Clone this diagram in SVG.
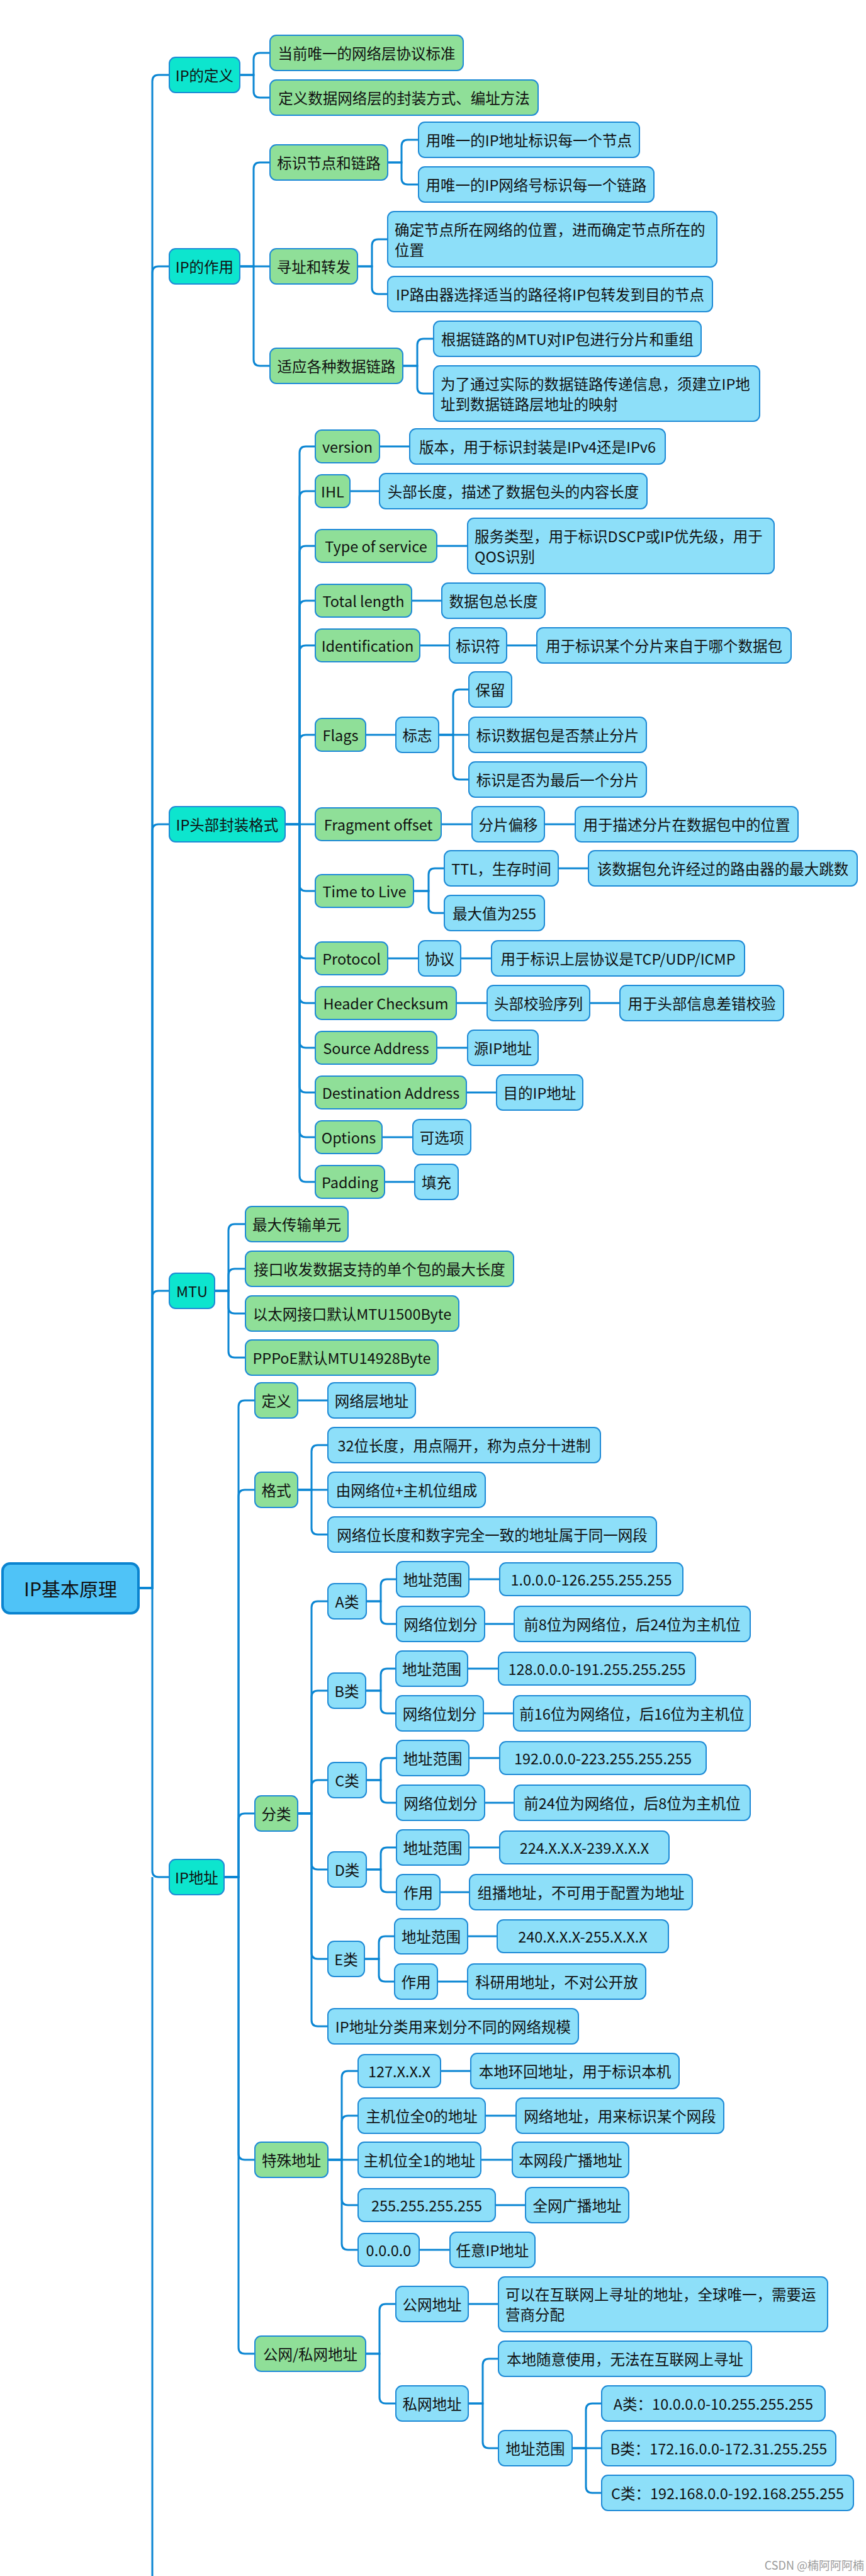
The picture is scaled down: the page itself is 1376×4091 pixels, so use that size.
<svg xmlns="http://www.w3.org/2000/svg" width="1376" height="4091" viewBox="0 0 1376 4091">
<style>
.n rect{stroke:#1d8ad6;stroke-width:2}
.g rect{fill:#8fdf98}
.b rect{fill:#8ddff9}
.c rect{fill:#0de5ce}
.r rect{fill:#4fc3f7;stroke:#0a83cf;stroke-width:4}
text{font-family:"Noto Sans CJK SC","Noto Sans",sans-serif;font-size:23.5px;fill:#111;dominant-baseline:central;text-anchor:middle}
text.l{text-anchor:start}
.e path{fill:none;stroke:#0b86d3;stroke-width:3}
.wm{font-size:18px;fill:#9a9a9a;text-anchor:end}
</style>
<rect width="1376" height="4091" fill="#fff"/>
<g class="e" id="connectors">
<path d="M220 2522H242V129Q242 119 252 119H269"/>
<path d="M220 2522H242V433Q242 423 252 423H269"/>
<path d="M220 2522H242V1319Q242 1309 252 1309H269"/>
<path d="M220 2522H242V2060Q242 2050 252 2050H269"/>
<path d="M220 2522H242V2971Q242 2981 252 2981H269"/>
<path d="M242 2981V4091"/>
<path d="M381 119H403V94Q403 84 413 84H429"/>
<path d="M381 119H403V145Q403 155 413 155H429"/>
<path d="M381 423H403V268Q403 258 413 258H429"/>
<path d="M381 423H429"/>
<path d="M381 423H403V571Q403 581 413 581H429"/>
<path d="M616 258H638V232Q638 222 648 222H665"/>
<path d="M616 258H638V283Q638 293 648 293H665"/>
<path d="M568 423H591V390Q591 380 601 380H616"/>
<path d="M568 423H591V457Q591 467 601 467H616"/>
<path d="M640 581H663V548Q663 538 673 538H689"/>
<path d="M640 581H663V615Q663 625 673 625H689"/>
<path d="M453 1309H476V719Q476 709 486 709H501"/>
<path d="M453 1309H476V790Q476 780 486 780H501"/>
<path d="M453 1309H476V877Q476 867 486 867H501"/>
<path d="M453 1309H476V964Q476 954 486 954H501"/>
<path d="M453 1309H476V1035Q476 1025 486 1025H501"/>
<path d="M453 1309H476V1177Q476 1167 486 1167H501"/>
<path d="M453 1309H501"/>
<path d="M453 1309H476V1405Q476 1415 486 1415H501"/>
<path d="M453 1309H476V1512Q476 1522 486 1522H501"/>
<path d="M453 1309H476V1583Q476 1593 486 1593H501"/>
<path d="M453 1309H476V1654Q476 1664 486 1664H501"/>
<path d="M453 1309H476V1725Q476 1735 486 1735H501"/>
<path d="M453 1309H476V1796Q476 1806 486 1806H501"/>
<path d="M453 1309H476V1867Q476 1877 486 1877H501"/>
<path d="M603 709H651"/>
<path d="M556 780H603"/>
<path d="M694 867H743"/>
<path d="M654 954H702"/>
<path d="M667 1025H714"/>
<path d="M805 1025H853"/>
<path d="M581 1167H629"/>
<path d="M697 1167H720V1105Q720 1095 730 1095H745"/>
<path d="M697 1167H745"/>
<path d="M697 1167H720V1228Q720 1238 730 1238H745"/>
<path d="M701 1309H750"/>
<path d="M865 1309H914"/>
<path d="M657 1415H681V1389Q681 1379 691 1379H706"/>
<path d="M657 1415H681V1440Q681 1450 691 1450H706"/>
<path d="M887 1379H935"/>
<path d="M616 1522H665"/>
<path d="M732 1522H781"/>
<path d="M725 1593H774"/>
<path d="M937 1593H985"/>
<path d="M694 1664H743"/>
<path d="M741 1735H789"/>
<path d="M607 1806H656"/>
<path d="M611 1877H659"/>
<path d="M341 2050H363V1954Q363 1944 373 1944H390"/>
<path d="M341 2050H363V2025Q363 2015 373 2015H390"/>
<path d="M341 2050H363V2076Q363 2086 373 2086H390"/>
<path d="M341 2050H363V2146Q363 2156 373 2156H390"/>
<path d="M356 2981H379V2234Q379 2224 389 2224H405"/>
<path d="M356 2981H379V2376Q379 2366 389 2366H405"/>
<path d="M356 2981H379V2890Q379 2880 389 2880H405"/>
<path d="M356 2981H379V3420Q379 3430 389 3430H405"/>
<path d="M356 2981H379V3728Q379 3738 389 3738H405"/>
<path d="M473 2224H521"/>
<path d="M473 2366H495V2305Q495 2295 505 2295H521"/>
<path d="M473 2366H521"/>
<path d="M473 2366H495V2427Q495 2437 505 2437H521"/>
<path d="M473 2880H495V2553Q495 2543 505 2543H521"/>
<path d="M473 2880H495V2695Q495 2685 505 2685H521"/>
<path d="M473 2880H495V2837Q495 2827 505 2827H521"/>
<path d="M473 2880H495V2959Q495 2969 505 2969H521"/>
<path d="M473 2880H495V3101Q495 3111 505 3111H521"/>
<path d="M473 2880H495V3208Q495 3218 505 3218H521"/>
<path d="M582 2543H605V2518Q605 2508 615 2508H630"/>
<path d="M582 2543H605V2569Q605 2579 615 2579H630"/>
<path d="M745 2508H794"/>
<path d="M770 2579H817"/>
<path d="M581 2685H605V2660Q605 2650 615 2650H629"/>
<path d="M581 2685H605V2711Q605 2721 615 2721H629"/>
<path d="M743 2650H792"/>
<path d="M768 2721H816"/>
<path d="M582 2827H605V2802Q605 2792 615 2792H630"/>
<path d="M582 2827H605V2853Q605 2863 615 2863H630"/>
<path d="M745 2792H794"/>
<path d="M770 2863H817"/>
<path d="M582 2969H605V2944Q605 2934 615 2934H630"/>
<path d="M582 2969H605V2995Q605 3005 615 3005H630"/>
<path d="M745 2934H794"/>
<path d="M699 3005H746"/>
<path d="M579 3111H602V3085Q602 3075 612 3075H627"/>
<path d="M579 3111H602V3137Q602 3147 612 3147H627"/>
<path d="M743 3075H790"/>
<path d="M695 3147H743"/>
<path d="M521 3430H543V3299Q543 3289 553 3289H569"/>
<path d="M521 3430H543V3370Q543 3360 553 3360H569"/>
<path d="M521 3430H569"/>
<path d="M521 3430H543V3492Q543 3502 553 3502H569"/>
<path d="M521 3430H543V3563Q543 3573 553 3573H569"/>
<path d="M700 3289H748"/>
<path d="M771 3360H820"/>
<path d="M764 3430H814"/>
<path d="M787 3502H835"/>
<path d="M666 3573H715"/>
<path d="M581 3738H603V3669Q603 3659 613 3659H629"/>
<path d="M581 3738H603V3807Q603 3817 613 3817H629"/>
<path d="M744 3659H792"/>
<path d="M744 3817H767V3756Q767 3746 777 3746H792"/>
<path d="M744 3817H767V3878Q767 3888 777 3888H792"/>
<path d="M909 3888H931V3827Q931 3817 941 3817H956"/>
<path d="M909 3888H956"/>
<path d="M909 3888H931V3949Q931 3959 941 3959H956"/>
</g>

<g id="root" class="n r"><rect x="4" y="2483" width="216" height="79" rx="12"/><text x="112" y="2522" style="font-size:30px">IP基本原理</text></g>

<g id="def" class="n c"><rect x="269" y="91" width="112" height="56" rx="10"/><text x="325" y="119">IP的定义</text></g>
<g id="def1" class="n g"><rect x="429" y="56" width="307" height="56" rx="10"/><text x="582.5" y="84">当前唯一的网络层协议标准</text></g>
<g id="def2" class="n g"><rect x="429" y="127" width="426" height="56" rx="10"/><text x="642" y="155">定义数据网络层的封装方式、编址方法</text></g>

<g id="role" class="n c"><rect x="269" y="395" width="112" height="56" rx="10"/><text x="325" y="423">IP的作用</text></g>
<g id="role1" class="n g"><rect x="429" y="230" width="187" height="56" rx="10"/><text x="522.5" y="258">标识节点和链路</text></g>
<g id="role1a" class="n b"><rect x="665" y="194" width="351" height="56" rx="10"/><text x="840.5" y="222">用唯一的IP地址标识每一个节点</text></g>
<g id="role1b" class="n b"><rect x="665" y="265" width="374" height="56" rx="10"/><text x="852" y="293">用唯一的IP网络号标识每一个链路</text></g>
<g id="role2" class="n g"><rect x="429" y="395" width="139" height="56" rx="10"/><text x="498.5" y="423">寻址和转发</text></g>
<g id="role2a" class="n b"><rect x="616" y="336" width="523" height="88" rx="10"/><text class="l" x="627" y="364">确定节点所在网络的位置，进而确定节点所在的</text><text class="l" x="627" y="396">位置</text></g>
<g id="role2b" class="n b"><rect x="616" y="439" width="516" height="56" rx="10"/><text x="874" y="467">IP路由器选择适当的路径将IP包转发到目的节点</text></g>
<g id="role3" class="n g"><rect x="429" y="553" width="211" height="56" rx="10"/><text x="534.5" y="581">适应各种数据链路</text></g>
<g id="role3a" class="n b"><rect x="689" y="510" width="425" height="56" rx="10"/><text x="901.5" y="538">根据链路的MTU对IP包进行分片和重组</text></g>
<g id="role3b" class="n b"><rect x="689" y="581" width="518" height="88" rx="10"/><text class="l" x="700" y="609">为了通过实际的数据链路传递信息，须建立IP地</text><text class="l" x="700" y="641">址到数据链路层地址的映射</text></g>

<g id="hdr" class="n c"><rect x="269" y="1281" width="184" height="56" rx="10"/><text x="361" y="1309">IP头部封装格式</text></g>
<g id="ver" class="n g"><rect x="501" y="683" width="102" height="52" rx="10"/><text x="552" y="709">version</text></g>
<g id="ver1" class="n b"><rect x="651" y="681" width="406" height="56" rx="10"/><text x="854" y="709">版本，用于标识封装是IPv4还是IPv6</text></g>
<g id="ihl" class="n g"><rect x="501" y="754" width="55" height="52" rx="10"/><text x="528.5" y="780">IHL</text></g>
<g id="ihl1" class="n b"><rect x="603" y="752" width="425" height="56" rx="10"/><text x="815.5" y="780">头部长度，描述了数据包头的内容长度</text></g>
<g id="tos" class="n g"><rect x="501" y="841" width="193" height="52" rx="10"/><text x="597.5" y="867">Type of service</text></g>
<g id="tos1" class="n b"><rect x="743" y="823" width="487" height="88" rx="10"/><text class="l" x="754" y="851">服务类型，用于标识DSCP或IP优先级，用于</text><text class="l" x="754" y="883">QOS识别</text></g>
<g id="tl" class="n g"><rect x="501" y="928" width="153" height="52" rx="10"/><text x="577.5" y="954">Total length</text></g>
<g id="tl1" class="n b"><rect x="702" y="926" width="164" height="56" rx="10"/><text x="784" y="954">数据包总长度</text></g>
<g id="idf" class="n g"><rect x="501" y="999" width="166" height="52" rx="10"/><text x="584" y="1025">Identification</text></g>
<g id="idf1" class="n b"><rect x="714" y="997" width="91" height="56" rx="10"/><text x="759.5" y="1025">标识符</text></g>
<g id="idf2" class="n b"><rect x="853" y="997" width="404" height="56" rx="10"/><text x="1055" y="1025">用于标识某个分片来自于哪个数据包</text></g>
<g id="flg" class="n g"><rect x="501" y="1141" width="80" height="52" rx="10"/><text x="541" y="1167">Flags</text></g>
<g id="flg1" class="n b"><rect x="629" y="1139" width="68" height="56" rx="10"/><text x="663" y="1167">标志</text></g>
<g id="flg1a" class="n b"><rect x="745" y="1067" width="68" height="56" rx="10"/><text x="779" y="1095">保留</text></g>
<g id="flg1b" class="n b"><rect x="745" y="1139" width="282" height="56" rx="10"/><text x="886" y="1167">标识数据包是否禁止分片</text></g>
<g id="flg1c" class="n b"><rect x="745" y="1210" width="282" height="56" rx="10"/><text x="886" y="1238">标识是否为最后一个分片</text></g>
<g id="frg" class="n g"><rect x="501" y="1283" width="200" height="52" rx="10"/><text x="601" y="1309">Fragment offset</text></g>
<g id="frg1" class="n b"><rect x="750" y="1281" width="115" height="56" rx="10"/><text x="807.5" y="1309">分片偏移</text></g>
<g id="frg2" class="n b"><rect x="914" y="1281" width="354" height="56" rx="10"/><text x="1091" y="1309">用于描述分片在数据包中的位置</text></g>
<g id="ttl" class="n g"><rect x="501" y="1389" width="156" height="52" rx="10"/><text x="579" y="1415">Time to Live</text></g>
<g id="ttl1" class="n b"><rect x="706" y="1351" width="181" height="56" rx="10"/><text x="796.5" y="1379">TTL，生存时间</text></g>
<g id="ttl1a" class="n b"><rect x="935" y="1351" width="427" height="56" rx="10"/><text x="1148.5" y="1379">该数据包允许经过的路由器的最大跳数</text></g>
<g id="ttl2" class="n b"><rect x="706" y="1422" width="159" height="56" rx="10"/><text x="785.5" y="1450">最大值为255</text></g>
<g id="pro" class="n g"><rect x="501" y="1496" width="115" height="52" rx="10"/><text x="558.5" y="1522">Protocol</text></g>
<g id="pro1" class="n b"><rect x="665" y="1494" width="67" height="56" rx="10"/><text x="698.5" y="1522">协议</text></g>
<g id="pro2" class="n b"><rect x="781" y="1494" width="402" height="56" rx="10"/><text x="982" y="1522">用于标识上层协议是TCP/UDP/ICMP</text></g>
<g id="hc" class="n g"><rect x="501" y="1567" width="224" height="52" rx="10"/><text x="613" y="1593">Header Checksum</text></g>
<g id="hc1" class="n b"><rect x="774" y="1565" width="163" height="56" rx="10"/><text x="855.5" y="1593">头部校验序列</text></g>
<g id="hc2" class="n b"><rect x="985" y="1565" width="260" height="56" rx="10"/><text x="1115" y="1593">用于头部信息差错校验</text></g>
<g id="src" class="n g"><rect x="501" y="1638" width="193" height="52" rx="10"/><text x="597.5" y="1664">Source Address</text></g>
<g id="src1" class="n b"><rect x="743" y="1636" width="112" height="56" rx="10"/><text x="799" y="1664">源IP地址</text></g>
<g id="dst" class="n g"><rect x="501" y="1709" width="240" height="52" rx="10"/><text x="621" y="1735">Destination Address</text></g>
<g id="dst1" class="n b"><rect x="789" y="1707" width="137" height="56" rx="10"/><text x="857.5" y="1735">目的IP地址</text></g>
<g id="opt" class="n g"><rect x="501" y="1780" width="106" height="52" rx="10"/><text x="554" y="1806">Options</text></g>
<g id="opt1" class="n b"><rect x="656" y="1778" width="92" height="56" rx="10"/><text x="702" y="1806">可选项</text></g>
<g id="pad" class="n g"><rect x="501" y="1851" width="110" height="52" rx="10"/><text x="556" y="1877">Padding</text></g>
<g id="pad1" class="n b"><rect x="659" y="1849" width="69" height="56" rx="10"/><text x="693.5" y="1877">填充</text></g>

<g id="mtu" class="n c"><rect x="269" y="2022" width="72" height="56" rx="10"/><text x="305" y="2050">MTU</text></g>
<g id="mtu1" class="n g"><rect x="390" y="1916" width="163" height="56" rx="10"/><text x="471.5" y="1944">最大传输单元</text></g>
<g id="mtu2" class="n g"><rect x="390" y="1987" width="426" height="56" rx="10"/><text x="603" y="2015">接口收发数据支持的单个包的最大长度</text></g>
<g id="mtu3" class="n g"><rect x="390" y="2058" width="339" height="56" rx="10"/><text x="559.5" y="2086">以太网接口默认MTU1500Byte</text></g>
<g id="mtu4" class="n g"><rect x="390" y="2128" width="306" height="56" rx="10"/><text x="543" y="2156">PPPoE默认MTU14928Byte</text></g>

<g id="ip" class="n c"><rect x="269" y="2953" width="87" height="56" rx="10"/><text x="312.5" y="2981">IP地址</text></g>
<g id="ipdef" class="n g"><rect x="405" y="2196" width="68" height="56" rx="10"/><text x="439" y="2224">定义</text></g>
<g id="ipdef1" class="n b"><rect x="521" y="2196" width="139" height="56" rx="10"/><text x="590.5" y="2224">网络层地址</text></g>
<g id="fmt" class="n g"><rect x="405" y="2338" width="68" height="56" rx="10"/><text x="439" y="2366">格式</text></g>
<g id="fmt1" class="n b"><rect x="521" y="2267" width="433" height="56" rx="10"/><text x="737.5" y="2295">32位长度，用点隔开，称为点分十进制</text></g>
<g id="fmt2" class="n b"><rect x="521" y="2338" width="250" height="56" rx="10"/><text x="646" y="2366">由网络位+主机位组成</text></g>
<g id="fmt3" class="n b"><rect x="521" y="2409" width="522" height="56" rx="10"/><text x="782" y="2437">网络位长度和数字完全一致的地址属于同一网段</text></g>
<g id="cls" class="n g"><rect x="405" y="2852" width="68" height="56" rx="10"/><text x="439" y="2880">分类</text></g>
<g id="ca" class="n b"><rect x="521" y="2515" width="61" height="56" rx="10"/><text x="551.5" y="2543">A类</text></g>
<g id="ca1" class="n b"><rect x="630" y="2480" width="115" height="56" rx="10"/><text x="687.5" y="2508">地址范围</text></g>
<g id="ca1v" class="n b"><rect x="794" y="2482" width="291" height="52" rx="10"/><text x="939.5" y="2508">1.0.0.0-126.255.255.255</text></g>
<g id="ca2" class="n b"><rect x="630" y="2551" width="140" height="56" rx="10"/><text x="700" y="2579">网络位划分</text></g>
<g id="ca2v" class="n b"><rect x="817" y="2551" width="375" height="56" rx="10"/><text x="1004.5" y="2579">前8位为网络位，后24位为主机位</text></g>
<g id="cb" class="n b"><rect x="521" y="2657" width="60" height="56" rx="10"/><text x="551" y="2685">B类</text></g>
<g id="cb1" class="n b"><rect x="629" y="2622" width="114" height="56" rx="10"/><text x="686" y="2650">地址范围</text></g>
<g id="cb1v" class="n b"><rect x="792" y="2624" width="313" height="52" rx="10"/><text x="948.5" y="2650">128.0.0.0-191.255.255.255</text></g>
<g id="cb2" class="n b"><rect x="629" y="2693" width="139" height="56" rx="10"/><text x="698.5" y="2721">网络位划分</text></g>
<g id="cb2v" class="n b"><rect x="816" y="2693" width="376" height="56" rx="10"/><text x="1004" y="2721">前16位为网络位，后16位为主机位</text></g>
<g id="cc" class="n b"><rect x="521" y="2799" width="61" height="56" rx="10"/><text x="551.5" y="2827">C类</text></g>
<g id="cc1" class="n b"><rect x="630" y="2764" width="115" height="56" rx="10"/><text x="687.5" y="2792">地址范围</text></g>
<g id="cc1v" class="n b"><rect x="794" y="2766" width="328" height="52" rx="10"/><text x="958" y="2792">192.0.0.0-223.255.255.255</text></g>
<g id="cc2" class="n b"><rect x="630" y="2835" width="140" height="56" rx="10"/><text x="700" y="2863">网络位划分</text></g>
<g id="cc2v" class="n b"><rect x="817" y="2835" width="375" height="56" rx="10"/><text x="1004.5" y="2863">前24位为网络位，后8位为主机位</text></g>
<g id="cd" class="n b"><rect x="521" y="2941" width="61" height="56" rx="10"/><text x="551.5" y="2969">D类</text></g>
<g id="cd1" class="n b"><rect x="630" y="2906" width="115" height="56" rx="10"/><text x="687.5" y="2934">地址范围</text></g>
<g id="cd1v" class="n b"><rect x="794" y="2908" width="269" height="52" rx="10"/><text x="928.5" y="2934">224.X.X.X-239.X.X.X</text></g>
<g id="cd2" class="n b"><rect x="630" y="2977" width="69" height="56" rx="10"/><text x="664.5" y="3005">作用</text></g>
<g id="cd2v" class="n b"><rect x="746" y="2977" width="354" height="56" rx="10"/><text x="923" y="3005">组播地址，不可用于配置为地址</text></g>
<g id="ce" class="n b"><rect x="521" y="3083" width="58" height="56" rx="10"/><text x="550" y="3111">E类</text></g>
<g id="ce1" class="n b"><rect x="627" y="3047" width="116" height="56" rx="10"/><text x="685" y="3075">地址范围</text></g>
<g id="ce1v" class="n b"><rect x="790" y="3049" width="272" height="52" rx="10"/><text x="926" y="3075">240.X.X.X-255.X.X.X</text></g>
<g id="ce2" class="n b"><rect x="627" y="3119" width="68" height="56" rx="10"/><text x="661" y="3147">作用</text></g>
<g id="ce2v" class="n b"><rect x="743" y="3119" width="283" height="56" rx="10"/><text x="884.5" y="3147">科研用地址，不对公开放</text></g>
<g id="cls2" class="n b"><rect x="521" y="3190" width="398" height="56" rx="10"/><text x="720" y="3218">IP地址分类用来划分不同的网络规模</text></g>
<g id="sp" class="n g"><rect x="405" y="3402" width="116" height="56" rx="10"/><text x="463" y="3430">特殊地址</text></g>
<g id="sp1" class="n b"><rect x="569" y="3263" width="131" height="52" rx="10"/><text x="634.5" y="3289">127.X.X.X</text></g>
<g id="sp1v" class="n b"><rect x="748" y="3261" width="331" height="56" rx="10"/><text x="913.5" y="3289">本地环回地址，用于标识本机</text></g>
<g id="sp2" class="n b"><rect x="569" y="3332" width="202" height="56" rx="10"/><text x="670" y="3360">主机位全0的地址</text></g>
<g id="sp2v" class="n b"><rect x="820" y="3332" width="330" height="56" rx="10"/><text x="985" y="3360">网络地址，用来标识某个网段</text></g>
<g id="sp3" class="n b"><rect x="569" y="3402" width="195" height="56" rx="10"/><text x="666.5" y="3430">主机位全1的地址</text></g>
<g id="sp3v" class="n b"><rect x="814" y="3402" width="185" height="56" rx="10"/><text x="906.5" y="3430">本网段广播地址</text></g>
<g id="sp4" class="n b"><rect x="569" y="3476" width="218" height="52" rx="10"/><text x="678" y="3502">255.255.255.255</text></g>
<g id="sp4v" class="n b"><rect x="835" y="3474" width="164" height="56" rx="10"/><text x="917" y="3502">全网广播地址</text></g>
<g id="sp5" class="n b"><rect x="569" y="3547" width="97" height="52" rx="10"/><text x="617.5" y="3573">0.0.0.0</text></g>
<g id="sp5v" class="n b"><rect x="715" y="3545" width="135" height="56" rx="10"/><text x="782.5" y="3573">任意IP地址</text></g>
<g id="pp" class="n g"><rect x="405" y="3710" width="176" height="56" rx="10"/><text x="493" y="3738">公网/私网地址</text></g>
<g id="pub" class="n b"><rect x="629" y="3631" width="115" height="56" rx="10"/><text x="686.5" y="3659">公网地址</text></g>
<g id="pubv" class="n b"><rect x="792" y="3616" width="523" height="87" rx="10"/><text class="l" x="803" y="3643">可以在互联网上寻址的地址，全球唯一，需要运</text><text class="l" x="803" y="3675">营商分配</text></g>
<g id="pri" class="n b"><rect x="629" y="3789" width="115" height="56" rx="10"/><text x="686.5" y="3817">私网地址</text></g>
<g id="pri1" class="n b"><rect x="792" y="3718" width="402" height="56" rx="10"/><text x="993" y="3746">本地随意使用，无法在互联网上寻址</text></g>
<g id="pri2" class="n b"><rect x="792" y="3860" width="117" height="56" rx="10"/><text x="850.5" y="3888">地址范围</text></g>
<g id="pri2a" class="n b"><rect x="956" y="3789" width="355" height="56" rx="10"/><text x="1133.5" y="3817">A类：10.0.0.0-10.255.255.255</text></g>
<g id="pri2b" class="n b"><rect x="956" y="3860" width="372" height="56" rx="10"/><text x="1142" y="3888">B类：172.16.0.0-172.31.255.255</text></g>
<g id="pri2c" class="n b"><rect x="956" y="3931" width="400" height="56" rx="10"/><text x="1156" y="3959">C类：192.168.0.0-192.168.255.255</text></g>

<text class="wm" x="1373" y="4073">CSDN @楠阿阿阿楠</text>
</svg>
